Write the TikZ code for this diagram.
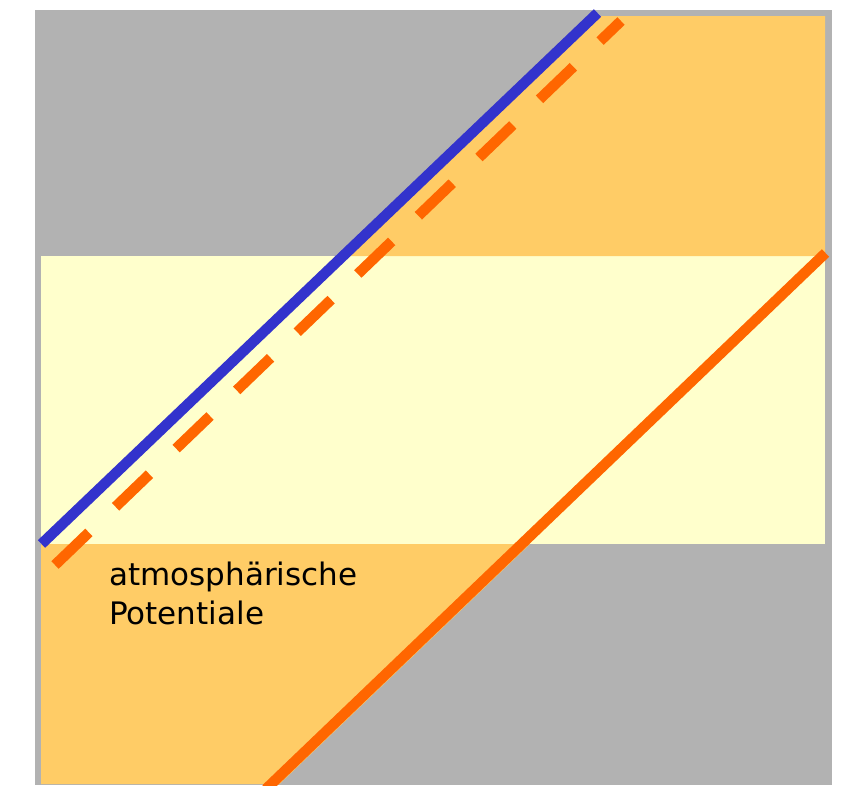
\documentclass[tikz,border=0pt]{standalone}
\usepackage{fontspec}
\setmainfont{DejaVu Sans}
\definecolor{bggrey}{HTML}{B2B2B2}
\definecolor{paleyellow}{HTML}{FFFFCC}
\definecolor{softorange}{HTML}{FFCC66}
\definecolor{lineorange}{HTML}{FF6600}
\definecolor{lineblue}{HTML}{3333CC}
\tikzset{
  region/.style={draw=none},
  thickline/.style={line width=10.5pt, line cap=butt},
  label/.style={anchor=base west, inner sep=0pt, font=\fontsize{31}{39}\selectfont, text=black}
}
\begin{document}
\begin{tikzpicture}[x=1pt,y=-1pt]
\useasboundingbox (0,0) rectangle (841,785);
% background grey
\fill[region, bggrey] (35,10) rectangle (832,785);
% pale yellow band
\fill[region, paleyellow] (41,256) rectangle (825,544);
% upper orange region (right of blue line)
\fill[region, softorange] (594.4,16) -- (825,16) -- (825,256) -- (343,256) -- cycle;
% lower orange region (left of solid orange line)
\fill[region, softorange] (41,544) -- (530,544) -- (279.5,784) -- (41,784) -- cycle;
% lines
\coordinate (b1) at (41.5,544);
\coordinate (b2) at (597.5,13);
\coordinate (d1) at (55,565);
\coordinate (d2) at (621,21);
\coordinate (s1) at (825.5,253);
\coordinate (s2) at (266,789);
\draw[thickline, lineblue] (b1) -- (b2);
\draw[thickline, lineorange, dash pattern=on 47pt off 37pt] (d1) -- (d2);
\draw[thickline, lineorange] (s1) -- (s2);
% text
\node[label] (t1) at (109,585) {atmosphärische};
\node[label] (t2) at (109,624) {Potentiale};
\end{tikzpicture}
\end{document}
